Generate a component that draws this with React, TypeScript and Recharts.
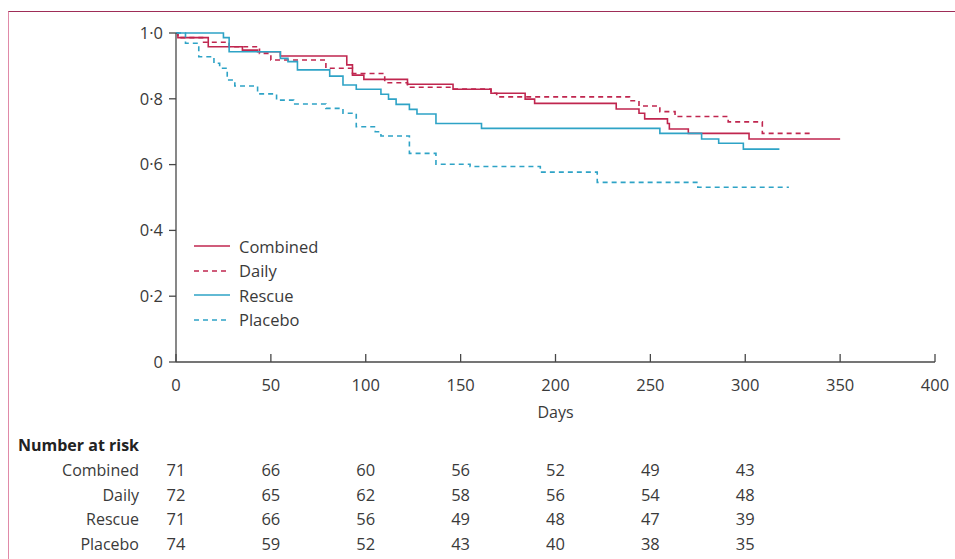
import { LineChart, Line, XAxis, YAxis } from "recharts";

const FONT = "'Open Sans', 'Noto Sans', sans-serif";
const TEXT = "#3a3a3a";
const AXIS = "#474747";
const RED = "#c0264f";
const BLUE = "#2ea3c6";

// Kaplan-Meier steps: day where the level starts, and the level
const combinedDays = [0, 1, 17, 35, 43, 55, 90, 93, 99, 122, 146, 166, 184, 189, 232, 244, 247, 259, 260, 270, 302, 350];
const combinedSurv = [1.0, 0.986, 0.958, 0.948, 0.943, 0.93, 0.903, 0.872, 0.859, 0.844, 0.829, 0.817, 0.799, 0.786, 0.769, 0.756, 0.739, 0.725, 0.708, 0.695, 0.678, 0.678];

const dailyDays = [0, 1, 14, 28, 44, 50, 79, 93, 110, 122, 146, 166, 169, 239, 244, 255, 263, 291, 309, 334];
const dailySurv = [1.0, 0.986, 0.972, 0.958, 0.938, 0.918, 0.893, 0.877, 0.849, 0.835, 0.83, 0.817, 0.806, 0.794, 0.778, 0.761, 0.746, 0.73, 0.695, 0.695];

const rescueDays = [0, 25, 28, 55, 59, 64, 81, 88, 95, 108, 112, 116, 123, 127, 137, 161, 255, 277, 286, 299, 318];
const rescueSurv = [1.0, 0.986, 0.943, 0.923, 0.913, 0.888, 0.869, 0.842, 0.829, 0.814, 0.799, 0.783, 0.768, 0.754, 0.725, 0.71, 0.695, 0.678, 0.665, 0.647, 0.647];

const placeboDays = [0, 5, 12, 20, 23, 27, 31, 43, 53, 62, 79, 88, 95, 105, 108, 123, 137, 155, 192, 222, 275, 323];
const placeboSurv = [1.0, 0.969, 0.928, 0.908, 0.893, 0.857, 0.839, 0.815, 0.796, 0.784, 0.771, 0.756, 0.715, 0.7, 0.687, 0.634, 0.601, 0.594, 0.577, 0.546, 0.531, 0.531];

// number at risk table
const riskDays = [0, 50, 100, 150, 200, 250, 300];
const riskCombined = [71, 66, 60, 56, 52, 49, 43];
const riskDaily = [72, 65, 62, 58, 56, 54, 48];
const riskRescue = [71, 66, 56, 49, 48, 47, 39];
const riskPlacebo = [74, 59, 52, 43, 40, 38, 35];

const xTicks = [0, 50, 100, 150, 200, 250, 300, 350, 400];
const yTicks = [0, 0.2, 0.4, 0.6, 0.8, 1.0];

const toRows = (days: number[], surv: number[]) => days.map((d, i) => ({ day: d, s: surv[i] }));

const SERIES = [
  { name: "Combined", data: toRows(combinedDays, combinedSurv), color: RED, dash: undefined, risk: riskCombined },
  { name: "Daily", data: toRows(dailyDays, dailySurv), color: RED, dash: "5 4", risk: riskDaily },
  { name: "Rescue", data: toRows(rescueDays, rescueSurv), color: BLUE, dash: undefined, risk: riskRescue },
  { name: "Placebo", data: toRows(placeboDays, placeboSurv), color: BLUE, dash: "5 4", risk: riskPlacebo },
];

const fmtY = (v: number) => (v === 0 ? "0" : v.toFixed(1).replace(".", "\u00b7"));

// x tick: inward tick line, label, and the number-at-risk column under it
function DayTick(props: any) {
  const { x, y, payload } = props;
  const v = payload.value as number;
  const idx = riskDays.indexOf(v);
  return (
    <g fontFamily={FONT} fontSize={16.5} fill={TEXT}>
      <line x1={x} y1={y} x2={x} y2={y - 8} stroke={AXIS} strokeWidth={1.3} />
      <text x={x} y={y + 29}textAnchor="middle">{v}</text>
      {idx >= 0 &&
        SERIES.map((s, i) => (
          <text key={s.name} x={x} y={y + 114 + i * 24.5} textAnchor="middle">
            {s.risk[idx]}
          </text>
        ))}
      {v === 0 && (
        <>
          <text x={18} y={y + 89} fontSize={16} fontWeight={700} fill="#222">Number at risk</text>
          {SERIES.map((s, i) => (
            <text key={s.name} x={x - 37} y={y + 114 + i * 24.5} fontSize={16} textAnchor="end">
              {s.name}
            </text>
          ))}
        </>
      )}
    </g>
  );
}

function LegendBox() {
  return (
    <div
      style={{
        position: "absolute",
        left: 194,
        top: 234,
        fontFamily: FONT,
        fontSize: 16.5,
        color: TEXT,
      }}
    >
      {SERIES.map((s) => (
        <div key={s.name} style={{ display: "flex", alignItems: "center", height: 24.5 }}>
          <svg width={45} height={10}>
            <line x1={0} y1={5} x2={36} y2={5} stroke={s.color} strokeWidth={1.6} strokeDasharray={s.dash} />
          </svg>
          <span>{s.name}</span>
        </div>
      ))}
    </div>
  );
}

export default function App() {
  return (
    <div style={{ position: "absolute", left: 0, top: 0, width: 955, height: 559, background: "#fff" }}>
      <div
        style={{
          position: "absolute",
          left: 8,
          top: 11,
          width: 947,
          height: 548,
          borderTop: "1.5px solid #9e2d57",
          borderLeft: "1.5px solid #e08aa8",
          boxSizing: "border-box",
        }}
      />
      <LineChart
        width={955}
        height={559}
        margin={{ top: 33, right: 20, bottom: 167, left: 116 }}
        style={{ position: "absolute", left: 0, top: 0 }}
      >
        <XAxis
          dataKey="day"
          type="number"
          domain={[0, 400]}
          ticks={xTicks}
          allowDuplicatedCategory={false}
          height={30}
          tickSize={0}
          tickMargin={0}
          tickLine={false}
          tick={<DayTick />}
          axisLine={{ stroke: AXIS, strokeWidth: 1.3 }}
          interval={0}
          label={{ value: "Days", position: "bottom", offset: 15, fill: TEXT, fontSize: 16, fontFamily: FONT }}
        />
        <YAxis
          type="number"
          domain={[0, 1]}
          ticks={yTicks}
          width={60}
          tickSize={7}
          tickMargin={6}
          tickFormatter={fmtY}
          tick={{ fill: TEXT, fontSize: 16.5, fontFamily: FONT }}
          tickLine={{ stroke: AXIS, strokeWidth: 1.3 }}
          axisLine={{ stroke: AXIS, strokeWidth: 1.3 }}
          interval={0}
        />
        {SERIES.map((s) => (
          <Line
            key={s.name}
            data={s.data}
            dataKey="s"
            name={s.name}
            type="stepAfter"
            stroke={s.color}
            strokeWidth={1.6}
            strokeDasharray={s.dash}
            dot={false}
            activeDot={false}
            isAnimationActive={false}
          />
        ))}
      </LineChart>
      <LegendBox />
    </div>
  );
}
